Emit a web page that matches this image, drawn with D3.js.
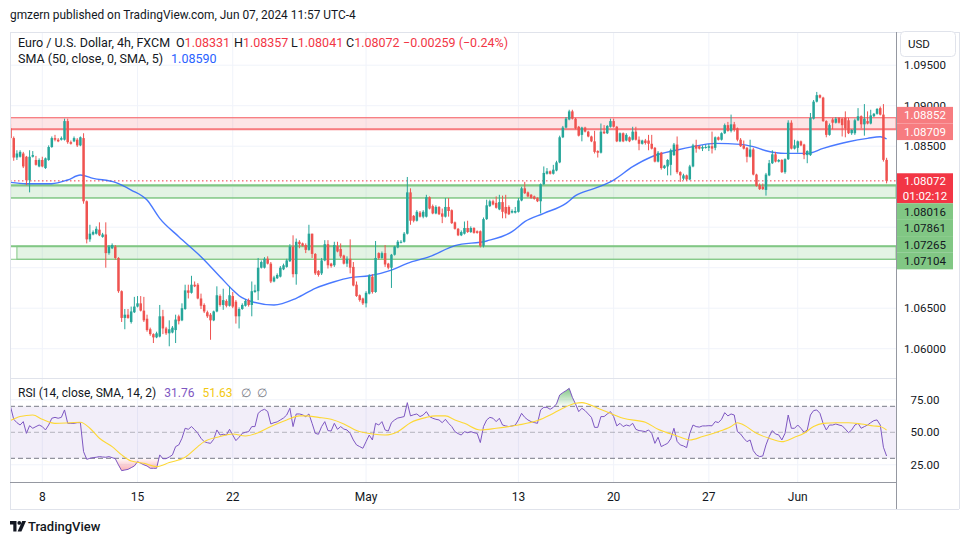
<!DOCTYPE html>
<html><head><meta charset="utf-8">
<script src="https://cdn.jsdelivr.net/npm/d3@7"></script>
<style>
html,body{margin:0;padding:0;background:#fff;}
svg{display:block;font-family:Roboto,"Noto Sans",sans-serif;}
</style></head><body>
<svg id="c" width="970" height="545"></svg>
<script>
// ---------------- DATA ----------------
const opens=[1.0872,1.0860,1.0836,1.0837,1.0841,1.0837,1.0808,1.0837,1.0833,1.0825,
1.0833,1.0823,1.0833,1.0849,1.0860,1.0858,1.0858,1.0858,1.0881,1.0855,
1.0856,1.0858,1.0851,1.0860,1.0782,1.0735,1.0741,1.0742,1.0747,1.0738,
1.0741,1.0718,1.0724,1.0726,1.0712,1.0671,1.0638,1.0642,1.0633,1.0645,
1.0652,1.0656,1.0647,1.0637,1.0624,1.0618,1.0614,1.0615,1.0640,1.0625,
1.0619,1.0620,1.0623,1.0640,1.0635,1.0649,1.0672,1.0669,1.0679,1.0679,
1.0662,1.0654,1.0645,1.0642,1.0635,1.0646,1.0665,1.0654,1.0659,1.0653,
1.0665,1.0658,1.0640,1.0649,1.0653,1.0660,1.0654,1.0670,1.0671,1.0700,
1.0700,1.0711,1.0705,1.0683,1.0687,1.0689,1.0698,1.0701,1.0708,1.0726,
1.0692,1.0732,1.0730,1.0728,1.0722,1.0742,1.0717,1.0696,1.0693,1.0709,
1.0729,1.0705,1.0703,1.0727,1.0723,1.0715,1.0705,1.0711,1.0701,1.0679,
1.0666,1.0662,1.0656,1.0668,1.0689,1.0670,1.0718,1.0712,1.0718,1.0705,
1.0700,1.0716,1.0725,1.0731,1.0732,1.0742,1.0793,1.0764,1.0758,1.0768,
1.0763,1.0763,1.0787,1.0776,1.0767,1.0775,1.0767,1.0763,1.0775,1.0771,
1.0756,1.0748,1.0740,1.0742,1.0749,1.0744,1.0749,1.0745,1.0745,1.0727,
1.0760,1.0776,1.0782,1.0780,1.0772,1.0781,1.0775,1.0775,1.0768,1.0768,
1.0769,1.0783,1.0798,1.0793,1.0790,1.0788,1.0786,1.0782,1.0803,1.0816,
1.0819,1.0816,1.0820,1.0830,1.0861,1.0873,1.0883,1.0893,1.0884,1.0874,
1.0864,1.0873,1.0868,1.0862,1.0856,1.0844,1.0842,1.0868,1.0866,1.0874,
1.0881,1.0874,1.0856,1.0866,1.0857,1.0861,1.0858,1.0868,1.0858,1.0853,
1.0857,1.0857,1.0853,1.0848,1.0831,1.0842,1.0823,1.0825,1.0827,1.0839,
1.0852,1.0818,1.0810,1.0814,1.0809,1.0825,1.0851,1.0850,1.0847,1.0848,
1.0848,1.0850,1.0848,1.0861,1.0858,1.0866,1.0876,1.0869,1.0877,1.0872,
1.0858,1.0851,1.0848,1.0837,1.0846,1.0815,1.0802,1.0800,1.0796,1.0814,
1.0829,1.0840,1.0831,1.0833,1.0818,1.0834,1.0879,1.0847,1.0848,1.0856,
1.0852,1.0839,1.0839,1.0884,1.0905,1.0913,1.0910,1.0881,1.0864,1.0883,
1.0879,1.0885,1.0884,1.0885,1.0882,1.0866,1.0866,1.0882,1.0887,1.0877,
1.0881,1.0878,1.0887,1.0890,1.0897,1.0889,1.08331];
const highs=[1.0877,1.0862,1.0845,1.0845,1.0843,1.0838,1.0845,1.0844,1.0838,1.0835,
1.0837,1.0836,1.0851,1.0862,1.0864,1.0860,1.0862,1.0884,1.0884,1.0857,
1.0862,1.0860,1.0862,1.0866,1.0783,1.0753,1.0746,1.0751,1.0756,1.0743,
1.0756,1.0728,1.0730,1.0728,1.0713,1.0672,1.0649,1.0649,1.0652,1.0664,
1.0665,1.0665,1.0664,1.0642,1.0626,1.0619,1.0621,1.0654,1.0648,1.0627,
1.0635,1.0628,1.0642,1.0642,1.0656,1.0679,1.0679,1.0690,1.0683,1.0681,
1.0668,1.0656,1.0647,1.0644,1.0647,1.0677,1.0667,1.0674,1.0661,1.0677,
1.0670,1.0660,1.0651,1.0656,1.0661,1.0662,1.0683,1.0679,1.0712,1.0709,
1.0713,1.0714,1.0707,1.0690,1.0693,1.0702,1.0705,1.0711,1.0729,1.0740,
1.0736,1.0734,1.0731,1.0730,1.0753,1.0742,1.0718,1.0697,1.0712,1.0734,
1.0734,1.0706,1.0732,1.0732,1.0730,1.0716,1.0714,1.0735,1.0707,1.0683,
1.0667,1.0663,1.0671,1.0692,1.0692,1.0733,1.0719,1.0720,1.0728,1.0706,
1.0717,1.0727,1.0734,1.0734,1.0744,1.0812,1.0798,1.0765,1.0771,1.0770,
1.0771,1.0790,1.0788,1.0778,1.0777,1.0776,1.0773,1.0786,1.0786,1.0772,
1.0757,1.0749,1.0746,1.0757,1.0758,1.0751,1.0750,1.0746,1.0746,1.0762,
1.0784,1.0784,1.0784,1.0788,1.0790,1.0789,1.0790,1.0777,1.0772,1.0775,
1.0786,1.0800,1.0806,1.0794,1.0791,1.0789,1.0787,1.0804,1.0825,1.0823,
1.0820,1.0827,1.0832,1.0863,1.0875,1.0886,1.0895,1.0895,1.0885,1.0875,
1.0874,1.0874,1.0869,1.0863,1.0869,1.0845,1.0878,1.0876,1.0876,1.0884,
1.0884,1.0875,1.0867,1.0867,1.0866,1.0862,1.0874,1.0874,1.0862,1.0858,
1.0859,1.0864,1.0864,1.0849,1.0844,1.0843,1.0827,1.0834,1.0847,1.0854,
1.0862,1.0819,1.0816,1.0815,1.0827,1.0853,1.0858,1.0851,1.0851,1.0852,
1.0853,1.0868,1.0862,1.0862,1.0867,1.0878,1.0880,1.0889,1.0880,1.0873,
1.0860,1.0857,1.0849,1.0858,1.0848,1.0816,1.0804,1.0804,1.0817,1.0833,
1.0845,1.0843,1.0834,1.0834,1.0835,1.0882,1.0882,1.0858,1.0857,1.0857,
1.0853,1.0845,1.0891,1.0907,1.0917,1.0914,1.0911,1.0882,1.0878,1.0885,
1.0886,1.0886,1.0885,1.0893,1.0885,1.0871,1.0884,1.0897,1.0888,1.0902,
1.0893,1.0895,1.0891,1.0897,1.0899,1.0902,1.08357];
const lows=[1.0858,1.0832,1.0833,1.0836,1.0823,1.0802,1.0793,1.0836,1.0826,1.0824,
1.0824,1.0822,1.0832,1.0848,1.0856,1.0855,1.0857,1.0857,1.0853,1.0852,
1.0855,1.0849,1.0850,1.0779,1.0730,1.0732,1.0740,1.0741,1.0739,1.0737,
1.0700,1.0716,1.0723,1.0710,1.0669,1.0633,1.0624,1.0637,1.0631,1.0644,
1.0651,1.0646,1.0633,1.0621,1.0616,1.0607,1.0613,1.0614,1.0618,1.0617,
1.0603,1.0619,1.0607,1.0630,1.0634,1.0648,1.0662,1.0668,1.0676,1.0661,
1.0649,1.0644,1.0638,1.0611,1.0634,1.0645,1.0652,1.0648,1.0651,1.0652,
1.0650,1.0631,1.0625,1.0648,1.0652,1.0652,1.0640,1.0669,1.0660,1.0699,
1.0699,1.0704,1.0681,1.0682,1.0686,1.0688,1.0697,1.0700,1.0707,1.0688,
1.0679,1.0724,1.0726,1.0718,1.0721,1.0712,1.0691,1.0689,1.0691,1.0708,
1.0699,1.0700,1.0701,1.0719,1.0712,1.0704,1.0701,1.0693,1.0677,1.0664,
1.0658,1.0654,1.0651,1.0667,1.0668,1.0669,1.0710,1.0711,1.0701,1.0698,
1.0675,1.0715,1.0724,1.0730,1.0731,1.0741,1.0753,1.0756,1.0757,1.0762,
1.0761,1.0762,1.0772,1.0766,1.0766,1.0765,1.0755,1.0762,1.0763,1.0754,
1.0747,1.0739,1.0739,1.0741,1.0743,1.0743,1.0742,1.0742,1.0725,1.0725,
1.0759,1.0775,1.0777,1.0773,1.0771,1.0761,1.0761,1.0765,1.0767,1.0767,
1.0768,1.0782,1.0791,1.0787,1.0785,1.0784,1.0781,1.0767,1.0802,1.0815,
1.0815,1.0815,1.0819,1.0829,1.0860,1.0872,1.0882,1.0883,1.0871,1.0862,
1.0856,1.0867,1.0861,1.0855,1.0841,1.0836,1.0841,1.0865,1.0865,1.0873,
1.0873,1.0855,1.0855,1.0855,1.0856,1.0855,1.0857,1.0857,1.0845,1.0852,
1.0852,1.0845,1.0846,1.0830,1.0830,1.0821,1.0822,1.0814,1.0814,1.0838,
1.0816,1.0806,1.0808,1.0807,1.0808,1.0824,1.0842,1.0846,1.0844,1.0847,
1.0844,1.0841,1.0845,1.0857,1.0857,1.0865,1.0868,1.0867,1.0868,1.0856,
1.0849,1.0846,1.0830,1.0836,1.0814,1.0800,1.0796,1.0796,1.0789,1.0813,
1.0828,1.0830,1.0830,1.0817,1.0816,1.0833,1.0846,1.0846,1.0842,1.0850,
1.0834,1.0829,1.0838,1.0883,1.0904,1.0909,1.0880,1.0861,1.0863,1.0871,
1.0878,1.0878,1.0862,1.0861,1.0865,1.0864,1.0864,1.0881,1.0872,1.0863,
1.0877,1.0877,1.0886,1.0889,1.0888,1.0831,1.08041];
const closes=[1.0860,1.0836,1.0841,1.0843,1.0825,1.0808,1.0837,1.0839,1.0827,1.0833,
1.0825,1.0835,1.0849,1.0860,1.0858,1.0856,1.0860,1.0881,1.0855,1.0853,
1.0860,1.0851,1.0861,1.0782,1.0735,1.0742,1.0744,1.0748,1.0740,1.0741,
1.0718,1.0726,1.0728,1.0712,1.0671,1.0638,1.0642,1.0638,1.0646,1.0652,
1.0656,1.0647,1.0635,1.0623,1.0618,1.0614,1.0619,1.0640,1.0625,1.0619,
1.0624,1.0626,1.0636,1.0634,1.0650,1.0672,1.0669,1.0679,1.0677,1.0662,
1.0653,1.0646,1.0640,1.0635,1.0646,1.0666,1.0654,1.0660,1.0653,1.0666,
1.0652,1.0640,1.0649,1.0654,1.0659,1.0654,1.0671,1.0672,1.0700,1.0707,
1.0711,1.0705,1.0683,1.0688,1.0691,1.0700,1.0703,1.0709,1.0726,1.0692,
1.0732,1.0729,1.0727,1.0722,1.0742,1.0717,1.0693,1.0691,1.0709,1.0729,
1.0703,1.0702,1.0728,1.0720,1.0714,1.0705,1.0711,1.0700,1.0678,1.0665,
1.0660,1.0656,1.0669,1.0690,1.0670,1.0712,1.0712,1.0718,1.0704,1.0700,
1.0716,1.0726,1.0732,1.0732,1.0742,1.0793,1.0758,1.0758,1.0769,1.0763,
1.0769,1.0787,1.0773,1.0767,1.0775,1.0766,1.0763,1.0775,1.0770,1.0755,
1.0748,1.0740,1.0744,1.0749,1.0744,1.0749,1.0743,1.0743,1.0727,1.0760,
1.0777,1.0782,1.0778,1.0774,1.0781,1.0769,1.0767,1.0766,1.0770,1.0770,
1.0783,1.0798,1.0792,1.0788,1.0786,1.0785,1.0782,1.0803,1.0817,1.0819,
1.0816,1.0821,1.0830,1.0861,1.0873,1.0884,1.0893,1.0884,1.0872,1.0863,
1.0873,1.0868,1.0862,1.0856,1.0843,1.0842,1.0868,1.0866,1.0875,1.0881,
1.0874,1.0856,1.0866,1.0856,1.0864,1.0856,1.0868,1.0858,1.0853,1.0857,
1.0854,1.0853,1.0847,1.0831,1.0842,1.0823,1.0826,1.0833,1.0845,1.0852,
1.0818,1.0814,1.0814,1.0809,1.0825,1.0851,1.0847,1.0847,1.0849,1.0849,
1.0850,1.0847,1.0861,1.0858,1.0866,1.0876,1.0869,1.0877,1.0870,1.0858,
1.0850,1.0847,1.0837,1.0846,1.0815,1.0801,1.0797,1.0797,1.0815,1.0829,
1.0840,1.0831,1.0833,1.0818,1.0834,1.0879,1.0847,1.0851,1.0856,1.0851,
1.0839,1.0844,1.0885,1.0905,1.0913,1.0910,1.0881,1.0864,1.0876,1.0879,
1.0884,1.0879,1.0876,1.0872,1.0866,1.0870,1.0882,1.0887,1.0877,1.0884,
1.0878,1.0888,1.0890,1.0896,1.0889,1.08331,1.08072];

// SMA(50) read at sample bars
const smaBars=[0,5,13,18,22,26,33,38,43,47,53,60,66,70,72,76,83,90,96,102,107,113,120,125,132,140,150,158,162,168,175,178,184,190,196,202,210,215,222,230,234,238,244,251,256,264,270,274,276];
const smaVals=[1.08053,1.08037,1.08037,1.08083,1.08144,1.08103,1.08053,1.07959,1.07835,1.07609,1.07383,1.07136,1.06889,1.06725,1.06654,1.06581,1.06539,1.06622,1.06745,1.06827,1.06877,1.06901,1.06971,1.07054,1.07136,1.07272,1.07330,1.07445,1.07568,1.07671,1.07794,1.07889,1.07979,1.08082,1.08247,1.08370,1.08453,1.08494,1.08535,1.08523,1.08494,1.08444,1.08411,1.08411,1.08473,1.08555,1.08597,1.08617,1.08590];

// RSI(14) per bar
const rsiVals=[69.7,60.0,57.4,55.6,58.2,49.2,55.1,53.1,54.4,55.6,
54.4,51.8,55.6,60.8,61.5,60.8,61.5,67.2,56.9,56.9,
56.9,57.4,57.4,35.1,29.2,30.0,30.5,30.8,31.3,31.0,
30.8,31.3,30.5,29.7,24.9,20.5,21.0,21.5,22.8,24.1,
27.4,26.2,25.0,24.1,22.3,22.3,22.3,32.6,29.7,29.7,
31.0,32.6,39.0,40.3,45.4,53.1,52.3,54.4,52.0,49.2,
45.4,42.8,42.0,41.5,44.6,51.8,47.9,48.5,47.9,52.3,
47.9,43.6,46.2,49.2,50.0,50.5,54.4,54.4,64.6,66.7,
67.7,66.0,56.4,57.4,58.0,59.5,61.0,63.3,68.5,54.4,
64.1,64.1,63.5,62.0,64.1,56.9,49.2,48.5,54.4,58.2,
51.3,51.0,56.9,52.3,54.4,52.5,51.8,49.2,44.1,40.3,
39.0,37.7,42.8,47.9,44.1,56.9,55.6,58.2,51.8,51.0,
57.4,59.5,61.0,61.5,62.1,72.8,62.6,63.5,64.1,62.1,
63.3,65.9,62.1,60.8,60.0,59.5,57.4,60.0,56.9,54.4,
50.5,49.0,47.9,50.5,49.7,50.5,49.7,49.2,42.1,54.4,
59.5,61.5,60.8,58.2,60.8,55.6,54.9,54.4,54.9,55.5,
59.5,64.6,61.5,59.5,58.2,57.5,56.9,67.2,69.2,69.2,
67.7,69.2,71.8,78.7,80.5,82.0,83.8,76.9,71.8,65.9,
68.5,66.7,64.1,61.5,53.8,53.8,62.1,62.1,64.1,65.9,
62.1,54.9,56.9,54.4,55.6,54.9,56.9,52.3,51.3,51.0,
50.5,51.8,49.2,41.5,46.2,39.0,40.3,41.5,45.0,53.1,
43.0,40.3,39.5,38.2,49.2,55.6,54.4,54.0,54.9,54.9,
55.1,55.0,58.2,57.5,60.0,65.1,62.6,64.1,63.3,50.5,
48.7,45.4,42.8,44.1,35.9,32.6,31.3,31.8,40.3,46.7,
51.3,48.7,48.0,44.1,49.2,63.3,53.1,53.1,55.6,53.1,
50.0,51.8,63.3,66.7,67.2,64.6,56.9,51.8,55.6,55.6,
56.4,55.6,55.0,52.5,49.7,51.8,55.6,56.9,53.1,54.4,
55.6,57.4,59.0,59.5,55.6,38.5,31.76];

// RSI-based MA read at sample bars
const rsiMaBars=[0,3,7,10,14,19,22,25,28,32,35,38,42,46,50,55,59,61,66,70,74,78,82,87,91,93,97,101,105,109,114,118,122,126,131,134,137,140,143,148,153,160,166,170,174,178,180,185,189,193,200,204,210,214,218,222,227,229,231,235,239,243,247,250,253,256,260,264,268,272,274,276];
const rsiMaVals=[59.0,62.1,63.3,60.0,56.9,57.4,57.7,53.1,45.4,39.0,32.6,27.9,26.2,23.6,26.7,30.8,39.0,42.8,46.7,48.7,47.2,49.7,54.4,59.5,62.6,62.6,61.5,60.0,56.4,51.3,48.7,47.9,50.5,57.4,61.5,62.6,62.6,59.5,56.9,51.8,53.1,55.6,59.0,63.3,68.5,72.3,72.8,68.5,64.6,60.8,57.7,52.3,47.2,44.1,46.7,49.7,54.4,57.4,55.6,49.2,45.4,42.8,46.2,49.2,54.4,56.9,57.4,57.4,56.4,54.9,54.4,51.63];

const priceTicks=[1.060,1.065,1.070,1.075,1.080,1.085,1.090,1.095];
const rsiTicks=[25,50,75];
const dateTickBars=[10,40,70,112,160,190,220,248];
const dateTickLabels=["8","15","22","May","13","20","27","Jun"];

// drawn zones
const zoneTops=[1.08852,1.08016,1.07265];
const zoneBottoms=[1.08709,1.07861,1.07104];
const zoneKinds=["res","sup","sup"];
const zoneStartBars=[0,0,2];
const lastPrice=1.08072;
const countdown="01:02:12";

// ---------------- CHART ----------------
const svg=d3.select("#c");
const PL=10,PR=896,PT=32,PB=378,RB=482,AB=509,AR=959;
const x=d3.scaleLinear().domain([0,276]).range([10.56,886.6]);
const y=d3.scaleLinear().domain([1.060,1.095]).range([348.7,65.2]);
const yr=d3.scaleLinear().domain([30,70]).range([458.3,406.3]);
const UP="#26a69a",DN="#ef5350",GRID="#f0f3fa",TXT="#131722";
const COL={res:{line:"#f77c80",fill:"rgba(247,124,128,0.2)",tag:"#f77c80"},
           sup:{line:"#81c784",fill:"rgba(129,199,132,0.22)",tag:"#81c784"}};

const defs=svg.append("defs");
defs.append("clipPath").attr("id","mainClip").append("rect").attr("x",PL).attr("y",PT).attr("width",PR-PL).attr("height",PB-PT);
defs.append("clipPath").attr("id","rsiClip").append("rect").attr("x",PL).attr("y",PB).attr("width",PR-PL).attr("height",RB-PB);
defs.append("clipPath").attr("id","obClip").append("rect").attr("x",PL).attr("y",PB).attr("width",PR-PL).attr("height",yr(70)-PB);
defs.append("clipPath").attr("id","osClip").append("rect").attr("x",PL).attr("y",yr(30)).attr("width",PR-PL).attr("height",RB-yr(30));
const gOB=defs.append("linearGradient").attr("id","gOB").attr("gradientUnits","userSpaceOnUse").attr("x1",0).attr("x2",0).attr("y1",yr(85)).attr("y2",yr(70));
gOB.append("stop").attr("offset",0).attr("stop-color","rgba(76,175,80,0.75)");
gOB.append("stop").attr("offset",1).attr("stop-color","rgba(76,175,80,0.02)");
const gOS=defs.append("linearGradient").attr("id","gOS").attr("gradientUnits","userSpaceOnUse").attr("x1",0).attr("x2",0).attr("y1",yr(30)).attr("y2",yr(18));
gOS.append("stop").attr("offset",0).attr("stop-color","rgba(242,54,69,0.02)");
gOS.append("stop").attr("offset",1).attr("stop-color","rgba(242,54,69,0.5)");

// grid
const grid=svg.append("g");
grid.selectAll(".vg").data(dateTickBars).join("line")
  .attr("x1",d=>x(d)).attr("x2",d=>x(d)).attr("y1",PT).attr("y2",RB).attr("stroke",GRID).attr("stroke-width",1);
grid.selectAll(".hg").data(priceTicks).join("line")
  .attr("x1",PL).attr("x2",PR).attr("y1",d=>y(d)).attr("y2",d=>y(d)).attr("stroke",GRID);
grid.selectAll(".rg").data([25,75]).join("line")
  .attr("x1",PL).attr("x2",PR).attr("y1",d=>yr(d)).attr("y2",d=>yr(d)).attr("stroke",GRID);

// zones
const main=svg.append("g").attr("clip-path","url(#mainClip)");
zoneTops.forEach((t,i)=>{
  const c=COL[zoneKinds[i]];
  main.append("rect").attr("x",x(zoneStartBars[i])).attr("y",y(t)).attr("width",PR-x(zoneStartBars[i]))
    .attr("height",y(zoneBottoms[i])-y(t)).attr("fill",c.fill)
    .attr("stroke",c.line).attr("stroke-width",1);
  const key = zoneKinds[i]==="res" ? zoneBottoms[i] : t;
  main.append("line").attr("x1",PL).attr("x2",PR).attr("y1",y(key)).attr("y2",y(key))
    .attr("stroke",c.line).attr("stroke-width",2.2);
  const thin = zoneKinds[i]==="res" ? t : zoneBottoms[i];
  main.append("line").attr("x1",PL).attr("x2",PR).attr("y1",y(thin)).attr("y2",y(thin))
    .attr("stroke",c.line).attr("stroke-width",1);
});

// last price line
main.append("line").attr("x1",PL).attr("x2",PR).attr("y1",y(lastPrice)).attr("y2",y(lastPrice))
  .attr("stroke","#f23645").attr("stroke-width",1).attr("stroke-dasharray","1.5,2.5");

// SMA
main.append("path").datum(smaBars.map((b,i)=>[b,smaVals[i]]))
  .attr("fill","none").attr("stroke","#2962ff").attr("stroke-opacity",0.85).attr("stroke-width",1.4)
  .attr("d",d3.line().x(d=>x(d[0])).y(d=>y(d[1])).curve(d3.curveMonotoneX));

// candles
const idx=d3.range(opens.length);
const cg=main.append("g");
cg.selectAll(".w").data(idx).join("line")
  .attr("x1",i=>x(i)).attr("x2",i=>x(i)).attr("y1",i=>y(highs[i])).attr("y2",i=>y(lows[i]))
  .attr("stroke",i=>closes[i]>=opens[i]?UP:DN).attr("stroke-width",1);
cg.selectAll(".b").data(idx).join("rect")
  .attr("x",i=>x(i)-1.25).attr("width",2.5)
  .attr("y",i=>y(Math.max(opens[i],closes[i])))
  .attr("height",i=>Math.max(1,Math.abs(y(opens[i])-y(closes[i]))))
  .attr("fill",i=>closes[i]>=opens[i]?UP:DN);

// RSI pane
const rg=svg.append("g").attr("clip-path","url(#rsiClip)");
rg.append("rect").attr("x",PL).attr("width",PR-PL).attr("y",yr(70)).attr("height",yr(30)-yr(70)).attr("fill","rgba(126,87,194,0.1)");
[70,30].forEach(v=>rg.append("line").attr("x1",PL).attr("x2",PR).attr("y1",yr(v)).attr("y2",yr(v))
  .attr("stroke","#787b86").attr("stroke-dasharray","5,3"));
rg.append("line").attr("x1",PL).attr("x2",PR).attr("y1",yr(50)).attr("y2",yr(50))
  .attr("stroke","rgba(120,123,134,0.5)").attr("stroke-dasharray","5,3");
rg.append("path").datum(idx).attr("clip-path","url(#obClip)").attr("fill","url(#gOB)")
  .attr("d",d3.area().x(i=>x(i)).y0(yr(70)).y1(i=>yr(rsiVals[i])));
rg.append("path").datum(idx).attr("clip-path","url(#osClip)").attr("fill","url(#gOS)")
  .attr("d",d3.area().x(i=>x(i)).y0(yr(30)).y1(i=>yr(rsiVals[i])));
rg.append("path").datum(idx).attr("fill","none").attr("stroke","#7e57c2").attr("stroke-width",1)
  .attr("d",d3.line().x(i=>x(i)).y(i=>yr(rsiVals[i])));
rg.append("path").datum(rsiMaBars.map((b,i)=>[b,rsiMaVals[i]])).attr("fill","none").attr("stroke","#fdd835").attr("stroke-width",1.1)
  .attr("d",d3.line().x(d=>x(d[0])).y(d=>yr(d[1])).curve(d3.curveMonotoneX));

// frame
const fr=svg.append("g").attr("stroke-width",1);
fr.append("line").attr("x1",PL).attr("x2",AR).attr("y1",PT+0.5).attr("y2",PT+0.5).attr("stroke","#e0e3eb");
fr.append("line").attr("x1",PL+0.5).attr("x2",PL+0.5).attr("y1",PT).attr("y2",AB).attr("stroke","#e0e3eb");
fr.append("line").attr("x1",AR+0.5).attr("x2",AR+0.5).attr("y1",PT).attr("y2",AB).attr("stroke","#e0e3eb");
fr.append("line").attr("x1",PL).attr("x2",AR).attr("y1",AB+0.5).attr("y2",AB+0.5).attr("stroke","#e0e3eb");
fr.append("line").attr("x1",PL).attr("x2",PR).attr("y1",PB+0.5).attr("y2",PB+0.5).attr("stroke","#e0e3eb");
fr.append("line").attr("x1",PL).attr("x2",PR).attr("y1",RB+0.5).attr("y2",RB+0.5).attr("stroke","#9598a1");
fr.append("line").attr("x1",PR+0.5).attr("x2",PR+0.5).attr("y1",PT).attr("y2",AB).attr("stroke","#9598a1");

// price tags layout (computed first so fully covered tick labels can be skipped)
const TAGH=16.6;
let items=zoneTops.flatMap((t,i)=>[
  {p:t,kind:zoneKinds[i],h:TAGH,off:TAGH/2},
  {p:zoneBottoms[i],kind:zoneKinds[i],h:TAGH,off:TAGH/2}]);
items.push({p:lastPrice,kind:"last",h:30,off:7.6,fixed:true});
items.forEach(d=>{d.nat=y(d.p)-d.off;d.top=d.nat;});
items.sort((a,b)=>a.nat-b.nat);
for(let i=1;i<items.length;i++){items[i].top=Math.max(items[i].nat,items[i-1].top+items[i-1].h);}
let clusters=[[items[0]]];
for(let i=1;i<items.length;i++){
  const prev=items[i-1];
  if(Math.abs(items[i].top-(prev.top+prev.h))<0.01) clusters[clusters.length-1].push(items[i]);
  else clusters.push([items[i]]);
}
clusters.forEach(cl=>{
  if(cl.some(d=>d.fixed)) return;
  const sh=d3.mean(cl,d=>d.nat-d.top);
  cl.forEach(d=>d.top+=sh);
});
const covered=v=>items.some(d=>y(v)>=d.top && y(v)<=d.top+d.h);

// price axis labels
const ax=svg.append("g").attr("font-size",11.5).attr("fill",TXT).attr("text-anchor","middle");
ax.selectAll(".pl").data(priceTicks.filter(v=>!covered(v))).join("text").attr("x",925).attr("y",d=>y(d)).attr("dy","0.35em").text(d3.format(".5f"));
ax.selectAll(".rl").data(rsiTicks).join("text").attr("x",925).attr("y",d=>yr(d)).attr("dy","0.35em").text(d3.format(".2f"));

// USD box
svg.append("rect").attr("x",900.5).attr("y",31.5).attr("width",55).attr("height",25).attr("rx",4)
  .attr("fill","#fff").attr("stroke","#e0e3eb");
svg.append("text").attr("x",908).attr("y",48).attr("font-size",11.5).attr("fill",TXT).text("USD");

const tg=svg.append("g").attr("font-size",11.5).attr("text-anchor","middle");
items.forEach(d=>{
  const fill = d.kind==="last" ? "#f23645" : COL[d.kind].tag;
  const tc = d.kind==="sup" ? TXT : "#ffffff";
  tg.append("rect").attr("x",PR+1).attr("y",d.top).attr("width",56).attr("height",d.h).attr("fill",fill);
  tg.append("text").attr("x",925).attr("y",d.top+d.off).attr("dy","0.36em").attr("fill",tc).text(d3.format(".5f")(d.p));
  if(d.kind==="last") tg.append("text").attr("x",925).attr("y",d.top+d.off+15).attr("dy","0.36em").attr("fill",tc).text(countdown);
});

// time axis
svg.append("g").attr("font-size",12).attr("fill",TXT).attr("text-anchor","middle")
  .selectAll("text").data(dateTickBars).join("text")
  .attr("x",d=>x(d)).attr("y",501).text((d,i)=>dateTickLabels[i]);

// header & legends
svg.append("text").attr("x",10).attr("y",18.5).attr("font-size",11.9).attr("fill",TXT)
  .text("gmzern published on TradingView.com, Jun 07, 2024 11:57 UTC-4");
const L=svg.append("g").attr("font-size",12.5).attr("fill",TXT);
const last=opens.length-1;
const f5=d3.format(".5f");
const chg=closes[last]-closes[last-1];
L.append("text").attr("x",18).attr("y",47).text("Euro / U.S. Dollar, 4h, FXCM");
[["O",opens[last],176],["H",highs[last],234],["L",lows[last],291],["C",closes[last],346]].forEach(([k,v,px])=>{
  const t=L.append("text").attr("x",px).attr("y",47);
  t.append("tspan").text(k);
  t.append("tspan").attr("fill","#f23645").text(f5(v));
});
L.append("text").attr("x",403).attr("y",47).attr("fill","#f23645")
  .text("\u2212"+f5(Math.abs(chg))+" (\u2212"+d3.format(".2f")(Math.abs(chg)/closes[last-1]*100)+"%)");
const s2=L.append("text").attr("x",18).attr("y",63);
s2.append("tspan").text("SMA (50, close, 0, SMA, 5)");
s2.append("tspan").attr("dx",8).attr("fill","#2962ff").text(f5(smaVals[smaVals.length-1]));
const r2=L.append("text").attr("x",18).attr("y",397).attr("font-size",12);
r2.append("tspan").text("RSI (14, close, SMA, 14, 2)");
r2.append("tspan").attr("dx",8).attr("fill","#7e57c2").text(d3.format(".2f")(rsiVals[last]));
r2.append("tspan").attr("dx",8).attr("fill","#f2c811").text(d3.format(".2f")(rsiMaVals[rsiMaVals.length-1]));
r2.append("tspan").attr("dx",8).attr("fill","#787b86").text("\u2205");
r2.append("tspan").attr("dx",6).attr("fill","#787b86").text("\u2205");

// logo
const lg=svg.append("g").attr("transform","translate(10,521)").attr("fill",TXT);
lg.append("path").attr("d","M0,0 H6.5 V10.5 H3.3 V3.4 H0 Z");
lg.append("circle").attr("cx",9.3).attr("cy",1.9).attr("r",1.9);
lg.append("path").attr("d","M12.2,0 H16 L11.4,10.5 H7.6 Z");
svg.append("text").attr("x",28).attr("y",531).attr("font-size",13).attr("font-weight",500).attr("fill",TXT).text("TradingView");
</script>
</body></html>
